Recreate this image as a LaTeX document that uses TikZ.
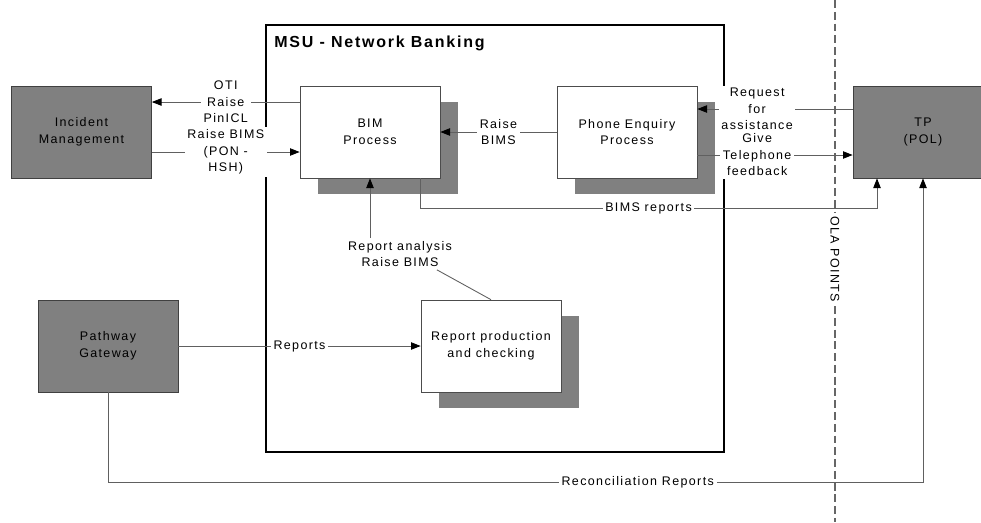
\documentclass[tikz,border=0pt]{standalone}
\usepackage{fontspec}
\setmainfont{Liberation Sans}[LetterSpace=11]
\usetikzlibrary{arrows.meta,shadows}
\definecolor{boxgrey}{RGB}{128,128,128}
\definecolor{linegrey}{RGB}{96,96,96}
\newcommand{\diagfont}{\fontsize{7.1}{9.4}\selectfont}

\tikzset{
  process/.style = {draw=black!70, fill=white, minimum width=2.8cm, minimum height=1.84cm,
    align=center, font=\diagfont,
    drop shadow={shadow xshift=0.36cm, shadow yshift=-0.32cm, fill=boxgrey, opacity=1}},
  external/.style = {draw=black!75, fill=boxgrey, minimum width=2.8cm, minimum height=1.84cm,
    align=center, font=\diagfont},
  flow/.style = {draw=linegrey, line width=0.5pt, -{Triangle[length=5.5pt,width=4.2pt,color=black]}},
  flowline/.style = {draw=linegrey, line width=0.5pt},
  flowlabel/.style = {fill=white, inner sep=1.5pt, align=center, font=\diagfont}
}

\begin{document}
\begin{tikzpicture}[x=0.02cm, y=-0.02cm]
    \useasboundingbox (0,0) rectangle (981,522);

    \draw[line width=1.1pt] (266,25) rectangle (724,452);
    \node[anchor=base west, inner sep=0pt, font=\fontsize{9.1}{10}\selectfont\bfseries] (msutitle) at (274,47) {MSU - Network Banking};

    \draw[draw=black!60, line width=1.2pt, dash pattern=on 4.5pt off 2.2pt] (835,0) -- (835,522);
    \node[fill=white, rotate=-90, inner sep=1.5pt, font=\diagfont] (ola) at (835,259) {OLA POINTS};

    \node[external] (incident) at (81.5,132) {Incident\\Management};
    \node[process] (bim) at (370,132) {BIM\\Process};
    \node[process] (phone) at (627,132) {Phone Enquiry\\Process};
    \node[external] (tp) at (923,132) {TP\\(POL)};
    \node[external] (pathway) at (108,346) {Pathway\\Gateway};
    \node[process] (report) at (491,346) {Report production\\and checking};

    \node[flowlabel] (analysis) at (400,254) {Report analysis\\Raise BIMS};

    \draw[flow] ([yshift=0.6cm]bim.west) -- node[flowlabel] {OTI\\Raise\\PinICL} ([yshift=0.6cm]incident.east);
    \draw[flow] ([yshift=-0.4cm]incident.east) -- node[flowlabel] {Raise BIMS\\(PON -\\HSH)} ([yshift=-0.4cm]bim.west);
    \draw[flow] (phone.west) -- node[flowlabel] {Raise\\BIMS} (bim.east);
    \draw[flow] ([yshift=0.46cm]tp.west) -- node[flowlabel, pos=0.615] {Request\\for\\assistance} ([yshift=0.46cm]phone.east);
    \draw[flow] ([yshift=-0.46cm]phone.east) -- node[flowlabel, pos=0.385] {Give\\Telephone\\feedback} ([yshift=-0.46cm]tp.west);
    \draw[flow] ([xshift=1cm]bim.south) -- ++(0,30) -| node[flowlabel, pos=0.25] {BIMS reports} ([xshift=-0.92cm]tp.south);
    \draw[flow] (analysis.north -| bim.south) -- (bim.south);
    \draw[flowline] (report.north) -- ([xshift=-0.36cm]analysis.south east);
    \draw[flow] (pathway.east) -- node[flowlabel] {Reports} (report.west);
    \draw[flow] (pathway.south) -- ++(0,90) -| node[flowlabel, pos=0.325] {Reconciliation Reports} (tp.south);
\end{tikzpicture}
\end{document}
